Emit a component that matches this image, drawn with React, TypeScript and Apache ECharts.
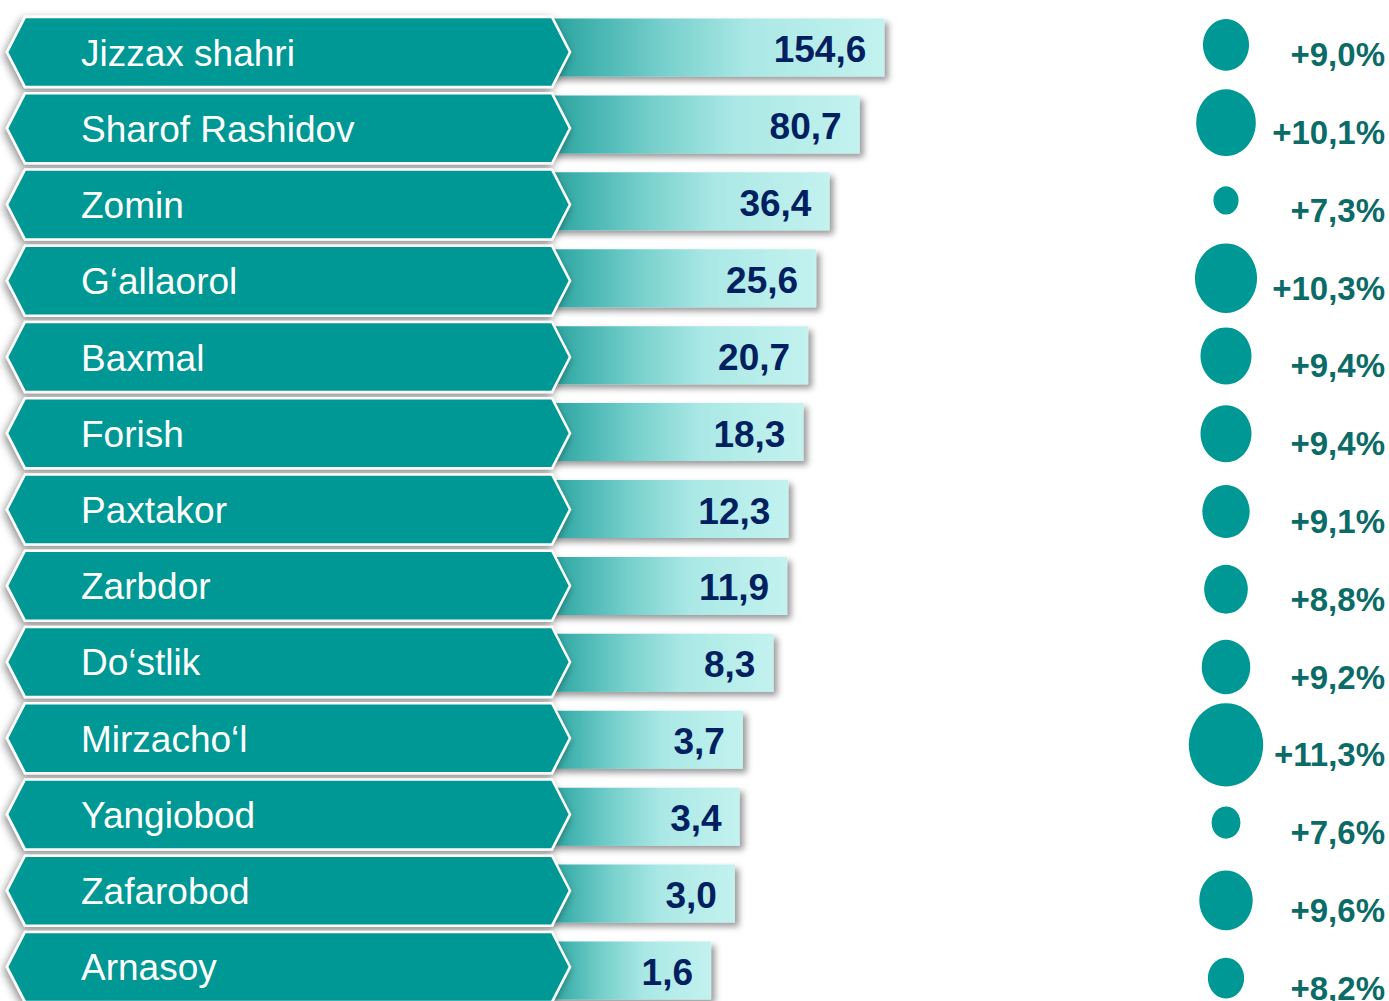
import React, { useEffect, useRef } from "react";
import * as echarts from "echarts";

const districts = [
  "Jizzax shahri",
  "Sharof Rashidov",
  "Zomin",
  "G\u2018allaorol",
  "Baxmal",
  "Forish",
  "Paxtakor",
  "Zarbdor",
  "Do\u2018stlik",
  "Mirzacho\u2018l",
  "Yangiobod",
  "Zafarobod",
  "Arnasoy",
];
const volumes = [154.6, 80.7, 36.4, 25.6, 20.7, 18.3, 12.3, 11.9, 8.3, 3.7, 3.4, 3.0, 1.6];
const growth = [9.0, 10.1, 7.3, 10.3, 9.4, 9.4, 9.1, 8.8, 9.2, 11.3, 7.6, 9.6, 8.2];

const volumeLabels = volumes.map((v) => v.toFixed(1).replace(".", ","));
const growthLabels = growth.map((g) => "+" + g.toFixed(1).replace(".", ",") + "%");

const FONT = "'Liberation Sans', Arial, sans-serif";
const TEAL = "#009894";

export default function App() {
  const ref = useRef<HTMLDivElement>(null);

  useEffect(() => {
    if (!ref.current) return;
    const chart = echarts.init(ref.current, undefined, { renderer: "svg" });

    const option: any = {
      animation: false,
      backgroundColor: "#ffffff",
      grid: [
        { left: 545, width: 410, top: 9, height: 1000 },
        { left: 7, width: 563, top: 14, height: 991 },
        { left: 1186, width: 80, top: 16, height: 1011 },
      ],
      xAxis: [
        { gridIndex: 0, type: "log", min: 0.02, max: 1000, show: false },
        { gridIndex: 1, type: "value", min: 0, max: 1, show: false },
        { gridIndex: 2, type: "value", min: -1, max: 1, show: false },
      ],
      yAxis: [
        { gridIndex: 0, type: "category", data: districts, inverse: true, show: false },
        { gridIndex: 1, type: "category", data: districts, inverse: true, show: false },
        {
          gridIndex: 2,
          type: "category",
          data: growthLabels,
          inverse: true,
          position: "right",
          axisLine: { show: false },
          axisTick: { show: false },
          splitLine: { show: false },
          axisLabel: {
            align: "right",
            margin: 119,
            color: "#0b6b67",
            fontSize: 33,
            fontWeight: "bold",
            fontFamily: FONT,
          },
        },
      ],
      series: [
        {
          type: "custom",
          xAxisIndex: 0,
          yAxisIndex: 0,
          z: 2,
          silent: true,
          data: volumes.map((v, i) => [v, i]),
          renderItem: (params: any, api: any) => {
            const i = api.value(1);
            const end = api.coord([api.value(0), i]);
            const left = params.coordSys.x;
            const h = 58;
            return {
              type: "group",
              children: [
                {
                  type: "rect",
                  shape: { x: left, y: end[1] - h / 2, width: end[0] - left, height: h },
                  style: {
                    fill: new echarts.graphic.LinearGradient(0, 0, 1, 0, [
                      { offset: 0, color: "#259f9b" },
                      { offset: 0.12, color: "#3fb1ad" },
                      { offset: 0.35, color: "#77d0cc" },
                      { offset: 0.6, color: "#aae8e5" },
                      { offset: 1, color: "#c3f2ef" },
                    ]),
                    shadowBlur: 6,
                    shadowColor: "rgba(0,0,0,0.4)",
                    shadowOffsetX: 4,
                    shadowOffsetY: 4,
                  },
                },
                {
                  type: "text",
                  x: end[0] - 18,
                  y: end[1] + 2,
                  style: {
                    text: volumeLabels[params.dataIndex],
                    align: "right",
                    verticalAlign: "middle",
                    fill: "#002060",
                    font: `bold 37px ${FONT}`,
                  },
                },
              ],
            };
          },
        },
        {
          type: "custom",
          xAxisIndex: 1,
          yAxisIndex: 1,
          z: 5,
          silent: true,
          data: districts.map((_, i) => [0, i]),
          renderItem: (params: any, api: any) => {
            const y = api.coord([0, api.value(1)])[1];
            const cs = params.coordSys;
            const l = cs.x;
            const r = cs.x + cs.width;
            const hh = 35;
            const s = 18;
            return {
              type: "group",
              children: [
                {
                  type: "polygon",
                  shape: {
                    points: [
                      [l, y],
                      [l + s, y - hh],
                      [r - s, y - hh],
                      [r, y],
                      [r - s, y + hh],
                      [l + s, y + hh],
                    ],
                  },
                  style: {
                    fill: TEAL,
                    stroke: "#ffffff",
                    lineWidth: 2.5,
                    shadowBlur: 8,
                    shadowColor: "rgba(0,0,0,0.45)",
                    shadowOffsetX: -2,
                    shadowOffsetY: 3,
                  },
                },
                {
                  type: "text",
                  x: l + 74,
                  y: y + 1,
                  style: {
                    text: districts[params.dataIndex],
                    fill: "#ffffff",
                    font: `37px ${FONT}`,
                    align: "left",
                    verticalAlign: "middle",
                  },
                },
              ],
            };
          },
        },
        {
          type: "scatter",
          xAxisIndex: 2,
          yAxisIndex: 2,
          z: 3,
          silent: true,
          symbol: "circle",
          data: growth.map((g, i) => [0, i, g]),
          symbolSize: (val: number[]) => {
            const w = 48.3 + (val[2] - 9.18) * 12.3;
            return [w, w * 1.12];
          },
          symbolOffset: [0, -10],
          itemStyle: { color: TEAL, opacity: 1 },
        },
      ],
    };

    chart.setOption(option);
    return () => chart.dispose();
  }, []);

  return (
    <div
      ref={ref}
      style={{ position: "fixed", left: 0, top: 0, width: 1389, height: 1040 }}
    />
  );
}
